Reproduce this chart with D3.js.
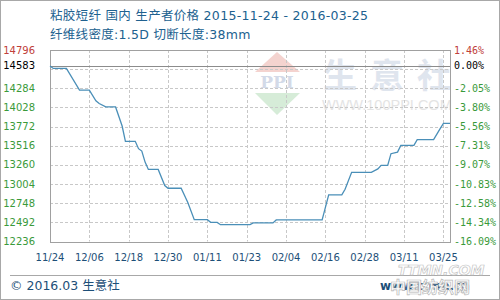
<!DOCTYPE html>
<html>
<head>
<meta charset="utf-8">
<script src="https://cdn.jsdelivr.net/npm/d3@7"></script>
<style>
  body { margin: 0; background: #fff; }
  svg text { font-family: "DejaVu Sans", "Noto Sans CJK SC", sans-serif; }
</style>
</head>
<body>
<div id="chart"></div>
<script>
const width = 500;
const height = 300;

// price series (date, yuan/t)
const dates = [
  "2015-11-24", "2015-11-25", "2015-11-29", "2015-12-03", "2015-12-06", "2015-12-08",
  "2015-12-09", "2015-12-11", "2015-12-14", "2015-12-16", "2015-12-17", "2015-12-20",
  "2015-12-21", "2015-12-22", "2015-12-23", "2015-12-24", "2015-12-27", "2015-12-29",
  "2015-12-30", "2016-01-03", "2016-01-05", "2016-01-07", "2016-01-11", "2016-01-12",
  "2016-01-14", "2016-01-15", "2016-01-24", "2016-01-25", "2016-01-31", "2016-02-01",
  "2016-02-15", "2016-02-17", "2016-02-21", "2016-02-22", "2016-02-24", "2016-03-01",
  "2016-03-03", "2016-03-04", "2016-03-06", "2016-03-07", "2016-03-09", "2016-03-10",
  "2016-03-14", "2016-03-15", "2016-03-20", "2016-03-22", "2016-03-23", "2016-03-25"
];
const prices = [
  14583, 14550, 14550, 14259, 14259, 14116,
  14081, 14035, 14035, 13780, 13575, 13575,
  13477, 13445, 13297, 13199, 13199, 12984,
  12948, 12948, 12760, 12528, 12528, 12492,
  12492, 12461, 12461, 12484, 12484, 12524,
  12524, 12859, 12859, 12935, 13161, 13161,
  13207, 13253, 13253, 13410, 13431, 13521,
  13521, 13597, 13597, 13745, 13815, 13815
];

const yLabels = [14796, 14583, 14284, 14028, 13772, 13516, 13260, 13004, 12748, 12492, 12236];
const pctLabels = ["1.46%", "0.00%", "-2.05%", "-3.80%", "-5.56%", "-7.31%", "-9.07%", "-10.83%", "-12.58%", "-14.34%", "-16.09%"];
const yGrid = [14540, 14284, 14028, 13772, 13516, 13260, 13004, 12748, 12492];

const xTickDates = ["2015-11-24", "2015-12-06", "2015-12-18", "2015-12-30", "2016-01-11", "2016-01-23",
  "2016-02-04", "2016-02-16", "2016-02-28", "2016-03-11", "2016-03-23"];
const xTickLabels = ["11/24", "12/06", "12/18", "12/30", "01/11", "01/23", "02/04", "02/16", "02/28", "03/11", "03/25"];

const title = "粘胶短纤 国内 生产者价格 2015-11-24 - 2016-03-25";
const subtitle = "纤维线密度:1.5D 切断长度:38mm";
const markChars = ["生", "意", "社"];

const parse = d3.timeParse("%Y-%m-%d");
const data = dates.map((d, i) => ({ date: parse(d), value: prices[i] }));

const margin = { top: 50, right: 50, bottom: 59, left: 50 };

const x = d3.scaleTime()
    .domain([parse("2015-11-24"), parse("2016-03-25")])
    .range([margin.left, width - margin.right]);

const y = d3.scaleLinear()
    .domain([12236, 14796])
    .range([height - margin.bottom + 0.5, margin.top]);

const svg = d3.select("#chart")
    .append("svg")
    .attr("width", width)
    .attr("height", height);

svg.append("rect")
    .attr("x", 0.5).attr("y", 0.5)
    .attr("width", width - 1).attr("height", height - 1)
    .attr("fill", "#fff")
    .attr("stroke", "#a8a8a8");

// watermark
const wm = svg.append("g");
wm.append("path")
    .attr("d", "M255,72 L277,52 L300,72 Z")
    .attr("fill", "#f4d3cf");
wm.append("text")
    .attr("x", 277).attr("y", 88)
    .attr("text-anchor", "middle")
    .style("font-family", "'DejaVu Serif', serif")
    .style("font-weight", "bold")
    .style("font-size", "17px")
    .attr("fill", "#d3dae8")
    .text("PPI");
wm.append("path")
    .attr("d", "M255,93 L300,93 L277,115 Z")
    .attr("fill", "#d6ecd8");
wm.selectAll("text.mk")
    .data(markChars)
    .join("text")
    .attr("class", "mk")
    .attr("x", (d, i) => 340 + i * 47)
    .attr("y", 88)
    .attr("text-anchor", "middle")
    .style("font-size", "34px")
    .style("font-weight", "bold")
    .attr("fill", "#dfe5ee")
    .text(d => d);
wm.append("text")
    .attr("x", 322).attr("y", 110)
    .style("font-family", "'Liberation Sans', sans-serif")
    .style("font-size", "14.5px")
    .attr("fill", "#e4e4e4")
    .text("WWW.100PPI.COM");

// grid
svg.append("g")
    .selectAll("line")
    .data(yGrid)
    .join("line")
    .attr("x1", margin.left).attr("x2", width - margin.right)
    .attr("y1", d => Math.round(y(d)) + 0.5).attr("y2", d => Math.round(y(d)) + 0.5)
    .attr("stroke", "#c8c8c8")
    .attr("stroke-dasharray", "3,2");

svg.append("g")
    .selectAll("line")
    .data(xTickDates.slice(1))
    .join("line")
    .attr("x1", d => Math.round(x(parse(d))) + 0.5).attr("x2", d => Math.round(x(parse(d))) + 0.5)
    .attr("y1", margin.top).attr("y2", y(12236))
    .attr("stroke", "#c8c8c8")
    .attr("stroke-dasharray", "3,2");

// baseline (first price)
svg.append("line")
    .attr("x1", margin.left).attr("x2", width - margin.right)
    .attr("y1", Math.round(y(prices[0])) + 0.5).attr("y2", Math.round(y(prices[0])) + 0.5)
    .attr("stroke", "#8c8c8c");

// frame
svg.append("rect")
    .attr("x", margin.left + 0.5).attr("y", margin.top + 0.5)
    .attr("width", width - margin.left - margin.right)
    .attr("height", Math.round(y(12236)) - margin.top)
    .attr("fill", "none")
    .attr("stroke", "#a0a0a0");

// line
svg.append("path")
    .datum(data)
    .attr("fill", "none")
    .attr("stroke", "#4a8fb8")
    .attr("stroke-width", 1.3)
    .attr("d", d3.line().x(d => x(d.date)).y(d => y(d.value)));

// left labels
svg.append("g")
    .selectAll("text")
    .data(yLabels)
    .join("text")
    .attr("x", 35)
    .attr("y", d => y(d))
    .attr("dy", "0.35em")
    .attr("text-anchor", "end")
    .style("font-size", "10px")
    .attr("fill", (d, i) => i === 0 ? "#c0403a" : i === 1 ? "#000" : "#3a9a3a")
    .text(d => d);

// right labels
svg.append("g")
    .selectAll("text")
    .data(yLabels)
    .join("text")
    .attr("x", 454)
    .attr("y", d => y(d))
    .attr("dy", "0.35em")
    .style("font-family", "'DejaVu Sans Mono', monospace")
    .style("font-size", "10px")
    .attr("fill", (d, i) => i === 0 ? "#c0403a" : i === 1 ? "#000" : "#3a9a3a")
    .text((d, i) => pctLabels[i]);

// x labels
svg.append("g")
    .selectAll("text")
    .data(xTickDates)
    .join("text")
    .attr("x", d => x(parse(d)))
    .attr("y", 257)
    .attr("dy", "0.35em")
    .attr("text-anchor", "middle")
    .style("font-size", "10px")
    .attr("fill", "#1d4f78")
    .text((d, i) => xTickLabels[i]);

// titles
svg.append("text")
    .attr("x", 50).attr("y", 20)
    .style("font-size", "12.5px")
    .style("letter-spacing", "0.3px")
    .attr("fill", "#20618f")
    .text(title);
svg.append("text")
    .attr("x", 50).attr("y", 39)
    .style("font-size", "12.5px")
    .style("letter-spacing", "0.3px")
    .attr("fill", "#20618f")
    .text(subtitle);

// footer
svg.append("line")
    .attr("x1", 10).attr("x2", 490)
    .attr("y1", 275.5).attr("y2", 275.5)
    .attr("stroke", "#a8a8a8");
svg.append("text")
    .attr("x", 10).attr("y", 290)
    .style("font-size", "12.5px")
    .attr("fill", "#1d4f78")
    .text("© 2016.03 生意社");
svg.append("text")
    .attr("x", 380).attr("y", 290)
    .style("font-size", "12px")
    .style("font-weight", "bold")
    .attr("fill", "#1d4f78")
    .text("www.ttmn.cn");
svg.append("text")
    .attr("x", 390).attr("y", 293)
    .style("font-size", "16px")
    .style("font-weight", "bold")
    .attr("fill", "#fff")
    .attr("stroke", "#b8b8b8")
    .attr("stroke-width", 0.7)
    .text("中国纺织网");
svg.append("text")
    .attr("x", 398).attr("y", 275)
    .style("font-size", "14px")
    .style("font-weight", "bold")
    .style("font-style", "italic")
    .attr("fill", "#fff")
    .attr("stroke", "#c4c4c4")
    .attr("stroke-width", 0.7)
    .text("TTMN.COM");
</script>
</body>
</html>
